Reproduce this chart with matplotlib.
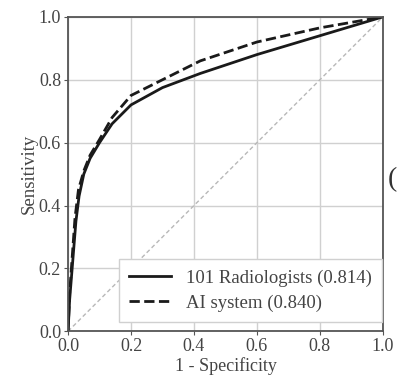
import numpy as np
import matplotlib.pyplot as plt

# curvas ROC
fpr_rad = [0, 0.005, 0.013, 0.025, 0.035, 0.05, 0.07, 0.1, 0.14, 0.2, 0.3, 0.42, 0.6, 0.8, 1.0]
tpr_rad = [0, 0.10, 0.20, 0.35, 0.43, 0.50, 0.55, 0.60, 0.66, 0.72, 0.775, 0.82, 0.88, 0.94, 1.0]
fpr_ai = [0, 0.005, 0.012, 0.022, 0.033, 0.05, 0.07, 0.1, 0.14, 0.2, 0.3, 0.42, 0.6, 0.8, 1.0]
tpr_ai = [0, 0.12, 0.22, 0.36, 0.45, 0.51, 0.56, 0.61, 0.68, 0.75, 0.80, 0.86, 0.92, 0.965, 1.0]
labels = ["101 Radiologists (0.814)", "AI system (0.840)"]
ticks = [0.0, 0.2, 0.4, 0.6, 0.8, 1.0]

plt.rcParams['font.family'] = ['Liberation Serif', 'DejaVu Serif']

fig = plt.figure(figsize=(3.98, 3.83), dpi=100)
ax = fig.add_axes([0.171, 0.135, 0.791, 0.821])

ax.plot([0, 1], [0, 1], color='#b8b8b8', linestyle=(0, (3, 2)), linewidth=1)
ax.plot(fpr_rad, tpr_rad, color='#1a1a1a', linewidth=2, label=labels[0])
ax.plot(fpr_ai, tpr_ai, color='#1a1a1a', linewidth=2, linestyle='--', label=labels[1])

ax.set_xlim(0, 1)
ax.set_ylim(0, 1)
ax.set_xticks(ticks)
ax.set_yticks(ticks)
ax.set_xticklabels([f"{t:.1f}" for t in ticks], fontsize=13)
ax.set_yticklabels([f"{t:.1f}" for t in ticks], fontsize=13)
ax.grid(color='#d0d0d0', linewidth=1)
ax.set_axisbelow(True)
for s in ax.spines.values():
    s.set_color('#555555')
    s.set_linewidth(1.3)
ax.tick_params(colors='#555555', labelcolor='#444444', length=3, pad=2)

ax.set_xlabel("1 - Specificity", fontsize=13, color='#444444', labelpad=1)
ax.set_ylabel("Sensitivity", fontsize=13.5, color='#444444', labelpad=1)

leg = ax.legend(loc='lower right', bbox_to_anchor=(0.997, 0.029), fontsize=13.5,
                frameon=True, fancybox=False, edgecolor='#d0d0d0', framealpha=1,
                handlelength=2.2, borderaxespad=0, borderpad=0.55,
                labelspacing=0.4, handletextpad=0.8)
for t in leg.get_texts():
    t.set_color('#444444')

fig.text(0.975, 0.53, "(", fontsize=20, color='#333333', ha='left', va='center')

fig.savefig("out.png", dpi=100)
